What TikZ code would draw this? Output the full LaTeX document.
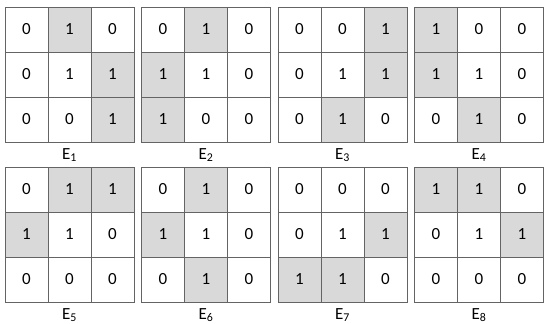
\documentclass[tikz,border=0pt]{standalone}
\usepackage{fontspec}
\setmainfont{Carlito}
\usepackage{tikz}

\definecolor{cellfill}{HTML}{D9D9D9}
\definecolor{cellline}{HTML}{646464}

\tikzset{
    cell/.style={draw=cellline, line width=0.9pt, minimum width=43pt, minimum height=45pt,
        inner sep=0pt, font=\fontsize{17}{20}\selectfont},
    lab/.style={font=\fontsize{17}{20}\selectfont, inner sep=0pt}
}

\begin{document}
\begin{tikzpicture}[x=1pt, y=-1pt]
        % page frame
        \useasboundingbox (0,0) rectangle (550,324);

        % the eight 3x3 masks, row by row (1 off the centre is shaded)
        \foreach \gx/\gy/\k/\cells in {
            5/7/1/{0,1,0,0,1,1,0,0,1},
            141.5/7/2/{0,1,0,1,1,0,1,0,0},
            278/7/3/{0,0,1,0,1,1,0,1,0},
            414.5/7/4/{1,0,0,1,1,0,0,1,0},
            5/167/5/{0,1,1,1,1,0,0,0,0},
            141.5/167/6/{0,1,0,1,1,0,0,1,0},
            278/167/7/{0,0,0,0,1,1,1,1,0},
            414.5/167/8/{1,1,0,0,1,1,0,0,0}} {
            \foreach \v [count=\i from 0] in \cells {
                \pgfmathtruncatemacro\r{div(\i,3)}
                \pgfmathtruncatemacro\c{mod(\i,3)}
                \def\fc{white}
                \ifnum\v=1 \ifnum\i=4 \else \def\fc{cellfill}\fi\fi
                \node[cell, fill=\fc] (e\k-\r\c) at (\gx+\c*43+21.5, \gy+\r*45+22.5) {\v};
            }
            % label under the mask
            \node[lab] (lab\k) at (\gx+64.5, \gy+148) {E\textsubscript{\k}};
        }
    \end{tikzpicture}
\end{document}
